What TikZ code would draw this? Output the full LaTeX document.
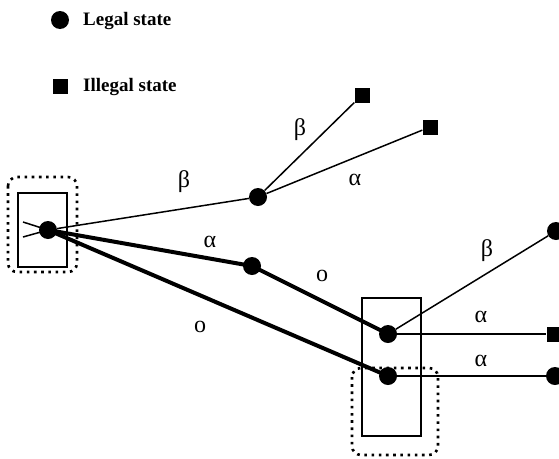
\documentclass[tikz,border=0pt]{standalone}
\usepackage{fontspec}
\setmainfont{Liberation Serif}
\begin{document}
\begin{tikzpicture}[x=1pt,y=-1pt,
  legal/.style={circle,fill=black,inner sep=0pt,minimum size=18pt},
  illegal/.style={rectangle,fill=black,inner sep=0pt,minimum size=15pt},
  thinedge/.style={line width=1.5pt},
  thickedge/.style={line width=4pt},
  lbl/.style={font=\fontsize{24}{28}\selectfont,inner sep=0pt},
  legendtxt/.style={font=\fontsize{19}{22}\selectfont\bfseries,anchor=west,inner sep=0pt},
  frame/.style={draw,line width=2pt},
  dotframe/.style={draw,line width=2.6pt,rounded corners=9pt,dash pattern=on 2.6pt off 4.6pt}]
\useasboundingbox (0,0) rectangle (559,458);

% legend
\node[legal] (lg) at (60,20) {};
\node[legendtxt] (lgt) at (83,21) {Legal state};
\node[illegal] (il) at (60,86) {};
\node[legendtxt] (ilt) at (83,87) {Illegal state};

% frames
\draw[dotframe] (8,177) rectangle (77,272);
\draw[frame] (18,193) rectangle (67,267);
\draw[frame] (362,298) rectangle (421,436);
\draw[dotframe] (352,368) rectangle (438,455);

% initial marker, drawn beneath the start state
\coordinate (rc) at (48,230);
\coordinate (i1) at (23,222);
\coordinate (i2) at (23,237);
\draw[thinedge] (rc) -- (i1);
\draw[thinedge] (rc) -- (i2);

% states
\node[legal] (r) at (rc) {};
\node[legal] (b) at (258,197) {};
\node[illegal] (bb) at (362,95) {};
\node[illegal] (ba) at (430,127) {};
\node[legal] (a) at (252,266) {};
\node[legal] (ao) at (388,334) {};
\node[legal] (o) at (388,376) {};
\node[legal] (aob) at (556,231) {};
\node[illegal] (aoa) at (554,334) {};
\node[legal] (oa) at (555,376) {};

% transitions
\draw[thinedge] (r) -- (b);
\draw[thinedge] (b) -- (bb);
\draw[thinedge] (b) -- (ba);
\draw[thickedge] (r.center) -- (a.center);
\draw[thickedge] (a.center) -- (ao.center);
\draw[thickedge] (r.center) -- (o.center);
\draw[thinedge] (ao) -- (aob);
\draw[thinedge] (ao) -- (aoa);
\draw[thinedge] (o) -- (oa);

% labels
\node[lbl] (l1) at (184,182) {β};
\node[lbl] (l2) at (300,130) {β};
\node[lbl] (l3) at (355,180) {α};
\node[lbl] (l4) at (210,242) {α};
\node[lbl] (l5) at (322,276) {o};
\node[lbl] (l6) at (200,327) {o};
\node[lbl] (l7) at (487,251) {β};
\node[lbl] (l8) at (481,317) {α};
\node[lbl] (l9) at (481,361) {α};
\end{tikzpicture}
\end{document}
